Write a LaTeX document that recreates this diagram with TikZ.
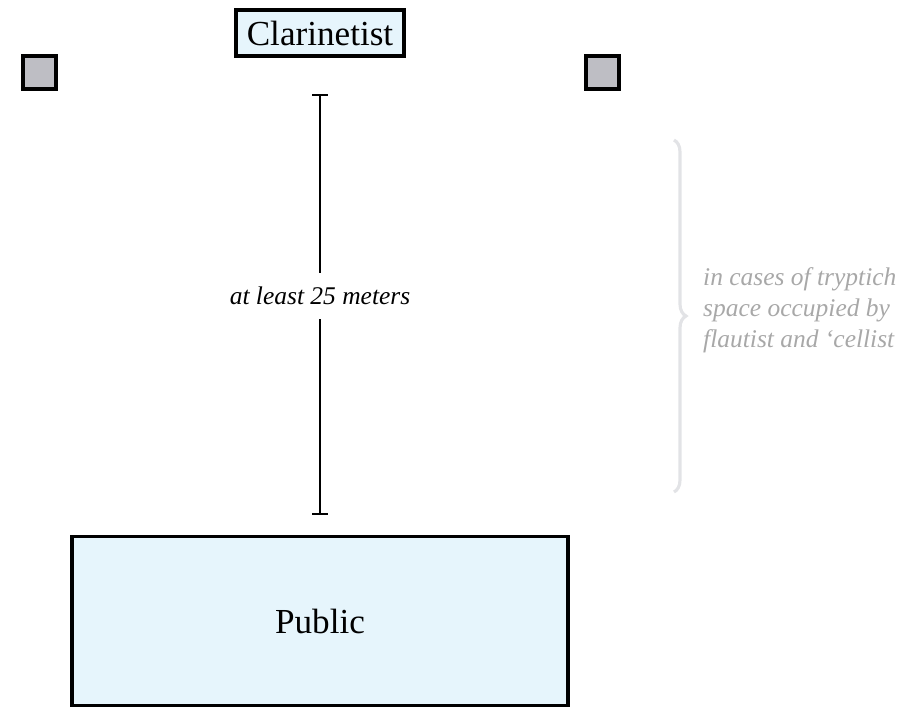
\documentclass[tikz,border=0pt]{standalone}
\usepackage{fontspec}
\setmainfont{Liberation Serif}
\usetikzlibrary{arrows.meta,decorations.pathreplacing}
\definecolor{stageblue}{RGB}{230,245,252}
\definecolor{standgray}{RGB}{190,190,196}
\definecolor{notegray}{RGB}{168,168,168}
\definecolor{bracegray}{RGB}{226,227,230}

\begin{document}
\begin{tikzpicture}[x=0.02cm,y=-0.02cm]
  \tikzstyle{player}=[rectangle, draw, line width=1.9pt, fill=stageblue,
    inner sep=0pt, font=\fontsize{20}{24}\selectfont]
  \tikzstyle{stand}=[rectangle, draw, line width=1.9pt, fill=standgray,
    minimum size=0.66cm, inner sep=0pt]
  \tikzstyle{note}=[font=\itshape\fontsize{14.5}{17.6}\selectfont]
  \useasboundingbox (0,0) rectangle (900,707);
  \node[player, minimum width=3.36cm, minimum height=0.92cm] (Clar) at (320,33) {Clarinetist};
  \node[stand] (S_L) at (39.5,72.5) {};
  \node[stand] (S_R) at (602.5,72.5) {};
  \node[player, minimum width=9.92cm, minimum height=3.38cm] (Pub) at (320,621) {Public};
  \draw[{Bar[width=9pt]}-{Bar[width=9pt]}, line width=1.2pt, shorten <=0.72cm, shorten >=0.4cm]
    (Clar) -- (Pub) node[note, midway, fill=white, inner xsep=2pt, inner ysep=8pt] {at least 25 meters};
  \draw[bracegray, line width=1.8pt, decorate, decoration={brace, amplitude=0.24cm}]
    (674,140) -- (674,492);
  \node[note, notegray, anchor=west, align=left] (Tript) at (697,310)
    {in cases of tryptich\\space occupied by\\flautist and ‘cellist};
\end{tikzpicture}
\end{document}
